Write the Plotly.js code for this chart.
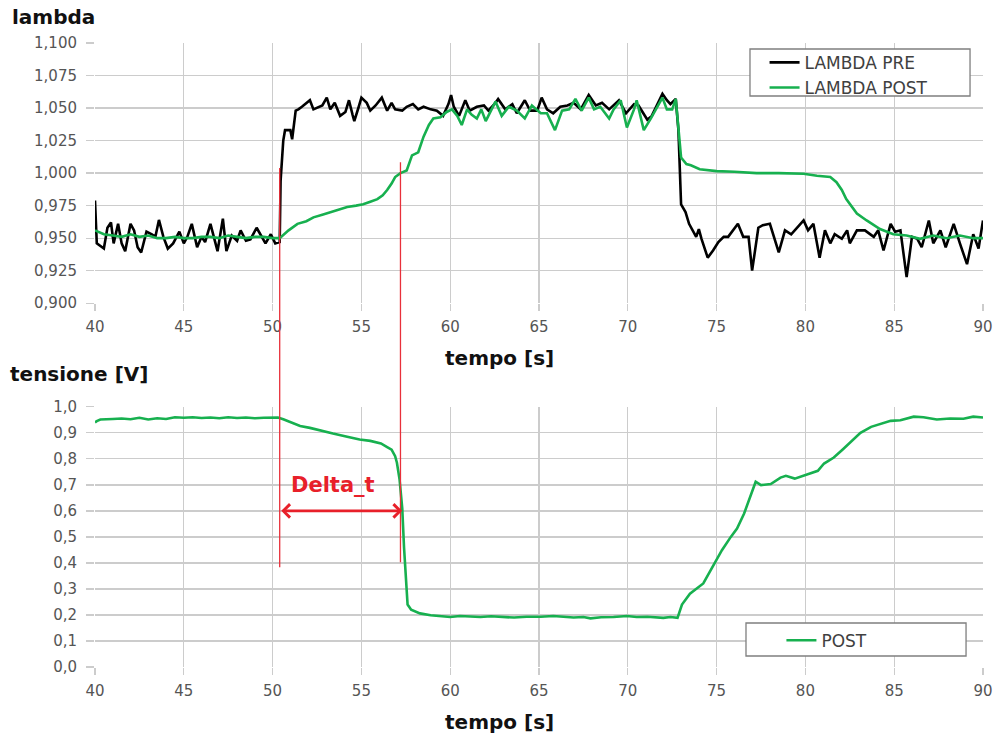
<!DOCTYPE html>
<html>
<head>
<meta charset="utf-8">
<script src="https://cdn.plot.ly/plotly-3.0.1.min.js"></script>
<style>html,body{margin:0;padding:0;background:#fff;}#chart{width:996px;height:744px;}</style>
</head>
<body>
<div id="chart"></div>
<script>
// ---- LAMBDA PRE (top chart, black) ----
const preTime = [40.0,40.1,40.5,40.7,40.9,41.05,41.3,41.5,41.7,42.0,42.2,42.4,42.6,42.9,43.2,43.4,43.6,43.85,44.1,44.4,44.75,45.0,45.2,45.45,45.75,46.0,46.2,46.5,46.9,47.2,47.4,47.7,48.0,48.2,48.5,48.75,49.1,49.3,49.6,49.9,50.15,50.4,50.45,50.6,50.7,51.0,51.1,51.3,51.45,51.65,51.9,52.1,52.3,52.6,52.8,53.05,53.25,53.5,53.8,54.1,54.3,54.5,54.6,54.85,55.0,55.3,55.5,55.8,56.15,56.45,56.7,56.9,57.3,57.55,57.9,58.2,58.5,58.9,59.25,59.6,59.9,60.05,60.2,60.5,60.85,61.1,61.5,61.9,62.15,62.55,62.7,63.1,63.5,63.75,64.2,64.5,64.9,65.15,65.45,65.8,66.2,66.6,66.95,67.35,67.8,68.2,68.55,68.95,69.2,69.5,69.9,70.35,70.6,71.1,71.35,71.65,71.95,72.2,72.4,72.7,72.85,73.0,73.25,73.45,73.65,73.85,74.0,74.15,74.5,74.8,75.1,75.4,75.65,75.95,76.2,76.5,76.8,77.0,77.35,77.6,78.0,78.5,78.85,79.2,79.9,80.15,80.45,80.8,81.1,81.4,81.65,82.05,82.35,82.5,82.9,83.35,83.85,84.1,84.4,84.8,85.05,85.35,85.7,86.0,86.3,86.55,86.95,87.2,87.6,87.9,88.35,88.7,89.1,89.45,89.75,90.0];
const preLambda = [0.979,0.946,0.942,0.958,0.962,0.946,0.961,0.946,0.940,0.961,0.956,0.943,0.939,0.955,0.953,0.951,0.964,0.951,0.942,0.946,0.955,0.946,0.951,0.961,0.943,0.951,0.947,0.961,0.940,0.965,0.940,0.952,0.948,0.956,0.948,0.949,0.958,0.953,0.946,0.953,0.946,0.947,0.994,1.025,1.033,1.033,1.026,1.048,1.049,1.051,1.054,1.056,1.049,1.051,1.052,1.058,1.049,1.054,1.044,1.047,1.056,1.045,1.040,1.051,1.058,1.054,1.048,1.052,1.058,1.048,1.054,1.049,1.048,1.051,1.053,1.049,1.051,1.049,1.048,1.044,1.053,1.060,1.051,1.044,1.056,1.048,1.051,1.052,1.048,1.054,1.057,1.049,1.053,1.046,1.056,1.048,1.048,1.058,1.049,1.046,1.051,1.052,1.054,1.049,1.060,1.052,1.054,1.049,1.052,1.056,1.046,1.053,1.052,1.041,1.044,1.053,1.061,1.056,1.053,1.057,1.033,0.976,0.970,0.961,0.956,0.951,0.957,0.9495,0.935,0.9405,0.947,0.951,0.951,0.956,0.961,0.951,0.951,0.925,0.958,0.960,0.961,0.939,0.956,0.953,0.9636,0.956,0.961,0.935,0.956,0.946,0.953,0.9495,0.956,0.946,0.956,0.956,0.951,0.956,0.9405,0.961,0.955,0.956,0.920,0.951,0.9495,0.943,0.9636,0.946,0.956,0.943,0.961,0.946,0.930,0.953,0.942,0.9636];

// ---- LAMBDA POST (top chart, green) ----
const postTime = [40.0,40.5,41.0,41.5,42.0,42.5,43.0,43.5,44.0,44.5,45.0,45.5,46.0,46.5,47.0,47.5,48.0,48.5,49.0,49.5,50.0,50.4,50.9,51.4,51.9,52.3,52.8,53.25,53.7,54.2,54.7,55.1,55.5,55.9,56.2,56.45,56.7,56.9,57.2,57.55,57.85,58.2,58.5,58.8,59.05,59.45,59.8,60.1,60.4,60.65,60.95,61.2,61.5,61.75,62.0,62.3,62.55,62.9,63.3,63.75,64.2,64.6,65.1,65.45,65.9,66.3,66.7,67.05,67.4,67.8,68.1,68.45,68.95,69.2,69.6,69.95,70.35,70.5,70.9,71.3,71.65,71.95,72.2,72.5,72.7,72.85,73.0,73.3,73.55,74.05,75.0,76.0,77.25,78.5,79.9,80.65,81.4,81.75,82.05,82.3,82.6,82.9,83.45,84.2,84.95,85.7,86.45,87.2,87.95,88.7,89.45,90.0];
const postLambda = [0.956,0.953,0.952,0.951,0.953,0.951,0.952,0.950,0.950,0.951,0.950,0.950,0.951,0.951,0.950,0.952,0.951,0.950,0.951,0.951,0.950,0.950,0.956,0.961,0.963,0.966,0.968,0.970,0.972,0.974,0.975,0.976,0.978,0.980,0.983,0.987,0.992,0.997,1.000,1.002,1.0136,1.016,1.028,1.037,1.042,1.043,1.047,1.049,1.044,1.037,1.049,1.045,1.042,1.049,1.040,1.048,1.055,1.044,1.051,1.048,1.042,1.052,1.046,1.046,1.033,1.048,1.049,1.057,1.048,1.058,1.049,1.051,1.042,1.049,1.056,1.035,1.049,1.056,1.033,1.042,1.051,1.058,1.049,1.049,1.057,1.033,1.012,1.007,1.006,1.003,1.0015,1.001,1.000,1.000,0.9995,0.998,0.997,0.993,0.987,0.980,0.974,0.969,0.9636,0.957,0.953,0.952,0.9495,0.952,0.950,0.952,0.950,0.950];

// ---- POST voltage (bottom chart, green) ----
const voltTime = [40.0,40.1,40.3,40.6,41.0,41.5,42.0,42.5,43.0,43.5,44.0,44.5,45.0,45.5,46.0,46.5,47.0,47.5,48.0,48.5,49.0,49.5,50.0,50.3,50.6,51.0,51.55,52.1,52.7,53.4,54.2,54.9,55.5,56.1,56.45,56.7,56.9,57.0,57.15,57.3,57.4,57.5,57.6,57.8,58.3,58.9,59.5,60.0,60.55,61.1,61.7,62.3,63.0,63.6,64.3,65.1,65.8,66.4,66.95,67.5,67.9,68.5,69.2,69.95,70.5,71.1,72.0,72.4,72.8,73.05,73.5,74.25,74.85,75.3,75.8,76.15,76.55,76.9,77.2,77.5,78.05,78.6,78.9,79.4,79.95,80.3,80.7,81.05,81.6,82.1,82.55,83.1,83.7,84.25,84.8,85.35,86.1,86.65,87.4,88.15,88.9,89.45,90.0];
const voltPost = [0.940,0.945,0.951,0.953,0.953,0.955,0.952,0.958,0.951,0.956,0.953,0.960,0.958,0.960,0.957,0.959,0.956,0.960,0.957,0.959,0.956,0.958,0.957,0.959,0.952,0.942,0.926,0.919,0.908,0.897,0.885,0.874,0.869,0.859,0.845,0.835,0.810,0.785,0.720,0.610,0.460,0.330,0.240,0.220,0.206,0.199,0.195,0.192,0.196,0.193,0.192,0.195,0.193,0.190,0.193,0.193,0.196,0.193,0.190,0.192,0.187,0.191,0.192,0.196,0.192,0.193,0.189,0.192,0.189,0.240,0.282,0.321,0.391,0.449,0.500,0.532,0.590,0.660,0.712,0.699,0.703,0.728,0.735,0.724,0.737,0.746,0.754,0.782,0.805,0.836,0.865,0.900,0.923,0.936,0.946,0.948,0.962,0.960,0.951,0.955,0.954,0.962,0.959];

// ---- annotation marks ----
const deltaStart = 50.4;
const deltaEnd = 57.2;
const deltaLevel = 0.6;

const GREEN = '#17b04f';
const RED = '#e8202a';
const GRID = '#cccccc';
const TICKC = '#555555';
const tickFont = {family: 'DejaVu Sans, sans-serif', size: 15, color: TICKC};
const boldFont = {family: 'DejaVu Sans, sans-serif', size: 20, color: '#111111', weight: 'bold'};
const legFont = {family: 'DejaVu Sans, sans-serif', size: 17, color: '#404040'};

const traces = [
  {x: preTime, y: preLambda, xaxis: 'x', yaxis: 'y', type: 'scatter', mode: 'lines',
   name: 'LAMBDA PRE', line: {color: '#000000', width: 2.6}, legend: 'legend'},
  {x: postTime, y: postLambda, xaxis: 'x', yaxis: 'y', type: 'scatter', mode: 'lines',
   name: 'LAMBDA POST', line: {color: GREEN, width: 2.6}, legend: 'legend'},
  {x: voltTime, y: voltPost, xaxis: 'x2', yaxis: 'y2', type: 'scatter', mode: 'lines',
   name: 'POST', line: {color: GREEN, width: 2.6}, legend: 'legend2'}
];

function xax(anchor) {
  return {anchor: anchor, range: [40, 90], dtick: 5, tick0: 40, showgrid: true, gridcolor: GRID, gridwidth: 1.3,
    zeroline: false, showline: false, ticks: 'outside', ticklen: 7, tickcolor: GRID, tickwidth: 1.3,
    ticklabelstandoff: 3, tickfont: tickFont};
}
function yax(domain, range, dtick, fmt) {
  return {domain: domain, range: range, dtick: dtick, tick0: 0, tickformat: fmt, showgrid: true, gridcolor: GRID,
    gridwidth: 1.3, zeroline: false, showline: false, ticks: 'outside', ticklen: 8, tickcolor: GRID, tickwidth: 1.3,
    ticklabelstandoff: 6, tickfont: tickFont};
}

const layout = {
  width: 996, height: 744,
  margin: {l: 95, r: 13, t: 43, b: 77},
  paper_bgcolor: '#ffffff', plot_bgcolor: '#ffffff',
  separators: ',.',
  xaxis: xax('y'),
  yaxis: yax([0.583, 1], [0.9, 1.1], 0.025, '.3f'),
  xaxis2: xax('y2'),
  yaxis2: yax([0, 0.417], [0, 1.0], 0.1, '.1f'),
  showlegend: true,
  legend: {x: 0.754, y: 0.997, xanchor: 'left', yanchor: 'top', bgcolor: 'rgba(0,0,0,0)', borderwidth: 0,
    font: legFont, tracegroupgap: 0},
  legend2: {x: 0.773, y: 0.071, xanchor: 'left', yanchor: 'top', bgcolor: 'rgba(0,0,0,0)', borderwidth: 0,
    font: legFont},
  shapes: [
    {type: 'rect', xref: 'paper', yref: 'paper', x0: 0.7376, x1: 0.9854, y0: 0.9151, y1: 0.9904,
     fillcolor: '#ffffff', line: {color: '#7f7f7f', width: 1.3}, layer: 'above'},
    {type: 'rect', xref: 'paper', yref: 'paper', x0: 0.7331, x1: 0.9809, y0: 0.0176, y1: 0.0705,
     fillcolor: '#ffffff', line: {color: '#7f7f7f', width: 1.3}, layer: 'above'},
    {type: 'line', xref: 'x', yref: 'paper', x0: deltaStart, x1: deltaStart, y0: 0.160, y1: 0.7997,
     line: {color: '#e8303a', width: 1.3}, layer: 'above'},
    {type: 'line', xref: 'x', yref: 'paper', x0: deltaEnd, x1: deltaEnd, y0: 0.168, y1: 0.809,
     line: {color: '#e8303a', width: 1.3}, layer: 'above'}
  ],
  annotations: [
    {text: '<b>lambda</b>', xref: 'paper', yref: 'paper', x: -0.0957, y: 1.0417, xanchor: 'left', yanchor: 'middle',
     showarrow: false, font: boldFont},
    {text: '<b>tempo [s]</b>', xref: 'paper', yref: 'paper', x: 0.456, y: 0.495, xanchor: 'center', yanchor: 'middle',
     showarrow: false, font: boldFont},
    {text: '<b>tensione [V]</b>', xref: 'paper', yref: 'paper', x: -0.098, y: 0.4696, xanchor: 'left', yanchor: 'middle',
     showarrow: false, font: boldFont},
    {text: '<b>tempo [s]</b>', xref: 'paper', yref: 'paper', x: 0.456, y: -0.088, xanchor: 'center', yanchor: 'middle',
     showarrow: false, font: boldFont},
    {text: '<b>Delta_t</b>', xref: 'x2', yref: 'y2', x: 53.4, y: 0.70, xanchor: 'center', yanchor: 'middle',
     showarrow: false, font: {family: 'DejaVu Sans, sans-serif', size: 21, color: RED}},
    {text: '', xref: 'x2', yref: 'y2', x: deltaEnd + 0.1, y: deltaLevel, axref: 'x2', ayref: 'y2', ax: deltaStart, ay: deltaLevel,
     showarrow: true, arrowhead: 4, startarrowhead: 4, arrowside: 'end+start', arrowsize: 1, startarrowsize: 1,
     arrowwidth: 2.6, arrowcolor: RED}
  ]
};

Plotly.newPlot('chart', traces, layout, {displayModeBar: false, staticPlot: true});
</script>
</body>
</html>
